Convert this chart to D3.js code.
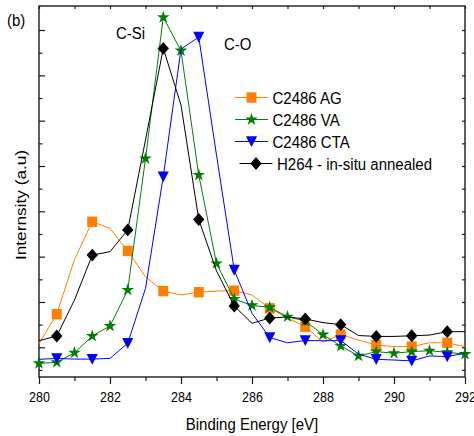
<!DOCTYPE html>
<html>
<head>
<meta charset="utf-8">
<script src="https://cdn.jsdelivr.net/npm/d3@7"></script>
<style>
  body { margin: 0; background: #fff; }
  text { font-family: "Liberation Sans", Arial, sans-serif; fill: #000; }
</style>
</head>
<body>
<div id="chart"></div>
<script>
// binding energy, one reading every 0.5 eV
const energy = d3.range(0, 25).map(i => 280 + i * 0.5);

const seriesNames = ["C2486 AG", "C2486 VA", "C2486 CTA", "H264 - in-situ annealed"];

const agValues = [2160, 3460, 5880, 7540, 7250, 6250, 5110, 4480, 4310, 4430, 4480, 4500, 4310,
  3720, 3290, 2910, 2230, 2560, 2320, 2100, 2030, 2030, 2200, 2200, 2030];
const vaValues = [1290, 1340, 1760, 2500, 2940, 4530, 10330, 16560, 15090, 9600, 5700, 4130, 3850,
  3760, 3350, 3160, 2560, 2060, 1620, 1810, 1740, 1810, 1850, 1780, 1700];
const ctaValues = [1470, 1510, 1480, 1480, 1510, 2180, 4600, 9530, 15160, 15690, 10480, 5410, 3500,
  2430, 2200, 2300, 2290, 2300, 1700, 1470, 1440, 1400, 1620, 1590, 1740];
const h264Values = [2290, 2500, 4090, 6070, 6220, 7180, 11150, 15190, 12690, 7640, 5370, 3820, 3060,
  3290, 3340, 3250, 3090, 3000, 2520, 2480, 2480, 2510, 2540, 2690, 2690];

const xMajorTicks = [280, 282, 284, 286, 288, 290, 292];
const xMinorTicks = [281, 283, 285, 287, 289, 291];
const yMajorTicks = [2000, 4000, 6000, 8000, 10000, 12000, 14000, 16000];
const yMinorTicks = [1000, 3000, 5000, 7000, 9000, 11000, 13000, 15000];

const peakLabels = [{ text: "C-Si", x: 116, y: 39 }, { text: "C-O", x: 224, y: 50 }];

const width = 474, height = 436;
const margin = { top: 6, left: 39, bottom: 59, right: 9 };
const textStretch = 1.15;   // the source picture is a little taller than wide

const svg = d3.select("#chart").append("svg")
  .attr("width", width)
  .attr("height", height);

svg.append("rect").attr("width", width).attr("height", height).attr("fill", "#fff");

const x = d3.scaleLinear()
  .domain([280, 292])
  .range([margin.left, width - margin.right]);

const y = d3.scaleLinear()
  .domain([690, 17060])
  .range([height - margin.bottom, margin.top]);

// text with a vertical stretch, placed by its baseline
function label(g, str, tx, ty, size, anchor, rotate) {
  const t = g.append("text")
    .attr("transform", `translate(${tx},${ty})` + (rotate ? ` rotate(${rotate}) scale(${textStretch},1)` : ` scale(1,${textStretch})`))
    .attr("font-size", size)
    .attr("text-anchor", anchor || "start")
    .text(str);
  return t;
}

const markers = {
  square: "M-5,-5.2L5,-5.2L5,5.2L-5,5.2Z",
  star: d3.symbol(d3.symbolStar, 50)(),
  triangleDown: "M-5.6,-5.2L5.6,-5.2L0,5.6Z",
  diamond: "M0,-6.4L5.7,0L0,6.4L-5.7,0Z"
};

const series = [
  { name: seriesNames[0], values: agValues, color: "#ff8000", marker: "square", every: 2, start: 1 },
  { name: seriesNames[1], values: vaValues, color: "#008000", marker: "star", every: 1, start: 0 },
  { name: seriesNames[2], values: ctaValues, color: "#0000ff", marker: "triangleDown", every: 2, start: 1 },
  { name: seriesNames[3], values: h264Values, color: "#000000", marker: "diamond", every: 2, start: 1 }
];

const line = d3.line()
  .x((d, i) => x(energy[i]))
  .y(d => y(d));

// axes
const axisColor = "#1a1a1a";
const bottomAxis = svg.append("g").attr("transform", `translate(0,${y.range()[0]})`);
bottomAxis.call(d3.axisBottom(x).tickValues(xMajorTicks).tickSize(7).tickSizeOuter(0));
bottomAxis.append("g").call(d3.axisBottom(x).tickValues(xMinorTicks).tickSize(4).tickFormat("").tickSizeOuter(0));
bottomAxis.selectAll("text").each(function () {
  d3.select(this)
    .attr("y", null).attr("dy", null)
    .attr("transform", `translate(0,24.5) scale(1,${textStretch})`)
    .attr("font-size", 12.5)
    .attr("font-family", "Liberation Sans, Arial, sans-serif")
    .attr("fill", "#000");
});

const topAxis = svg.append("g").attr("transform", `translate(0,${y.range()[1]})`);
topAxis.call(d3.axisBottom(x).tickValues(xMajorTicks.concat(xMinorTicks)).tickSize(3).tickFormat("").tickSizeOuter(0));

const leftAxis = svg.append("g").attr("transform", `translate(${x.range()[0]},0)`);
leftAxis.call(d3.axisRight(y).tickValues(yMajorTicks).tickSize(6).tickFormat("").tickSizeOuter(0));
leftAxis.append("g").call(d3.axisRight(y).tickValues(yMinorTicks).tickSize(3.5).tickFormat("").tickSizeOuter(0));

const rightAxis = svg.append("g").attr("transform", `translate(${x.range()[1]},0)`);
rightAxis.call(d3.axisLeft(y).tickValues(yMajorTicks.concat(yMinorTicks)).tickSize(3).tickFormat("").tickSizeOuter(0));

svg.selectAll(".domain").remove();
svg.selectAll(".tick line").attr("stroke", axisColor).attr("stroke-width", 1.2);

svg.append("rect")
  .attr("x", x.range()[0]).attr("y", y.range()[1])
  .attr("width", x.range()[1] - x.range()[0])
  .attr("height", y.range()[0] - y.range()[1])
  .attr("fill", "none")
  .attr("stroke", axisColor)
  .attr("stroke-width", 1.4);

// data
series.forEach(s => {
  const g = svg.append("g");
  g.append("path")
    .attr("d", line(s.values))
    .attr("fill", "none")
    .attr("stroke", s.color)
    .attr("stroke-width", 1);
  const pts = s.values.map((v, i) => ({ e: energy[i], v, i }))
    .filter(d => d.i >= s.start && (d.i - s.start) % s.every === 0);
  g.selectAll("path.m").data(pts).enter().append("path")
    .attr("class", "m")
    .attr("d", markers[s.marker])
    .attr("transform", d => `translate(${x(d.e)},${y(d.v)})`)
    .attr("fill", s.color);
});

// legend
const legendRows = [97.5, 119.5, 141.5, 163.5];
const legendShift = [0, 0, 0, 4.5];
const legend = svg.append("g");
series.forEach((s, i) => {
  const ly = legendRows[i], lx = 235 + legendShift[i];
  legend.append("line")
    .attr("x1", lx).attr("x2", lx + 33)
    .attr("y1", ly).attr("y2", ly)
    .attr("stroke", s.color).attr("stroke-width", 1);
  legend.append("path")
    .attr("d", markers[s.marker])
    .attr("transform", `translate(${lx + 16.5},${ly})`)
    .attr("fill", s.color);
  label(legend, s.name, lx + 37.5, ly + 6, 15);
});

// annotations and titles
peakLabels.forEach(p => label(svg, p.text, p.x, p.y, 15));
label(svg, "(b)", 7, 26, 15);
label(svg, "Binding Energy [eV]", 252, 430, 15, "middle");
label(svg, "Internsity (a.u)", 26, 205, 15, "middle", -90);
</script>
</body>
</html>
